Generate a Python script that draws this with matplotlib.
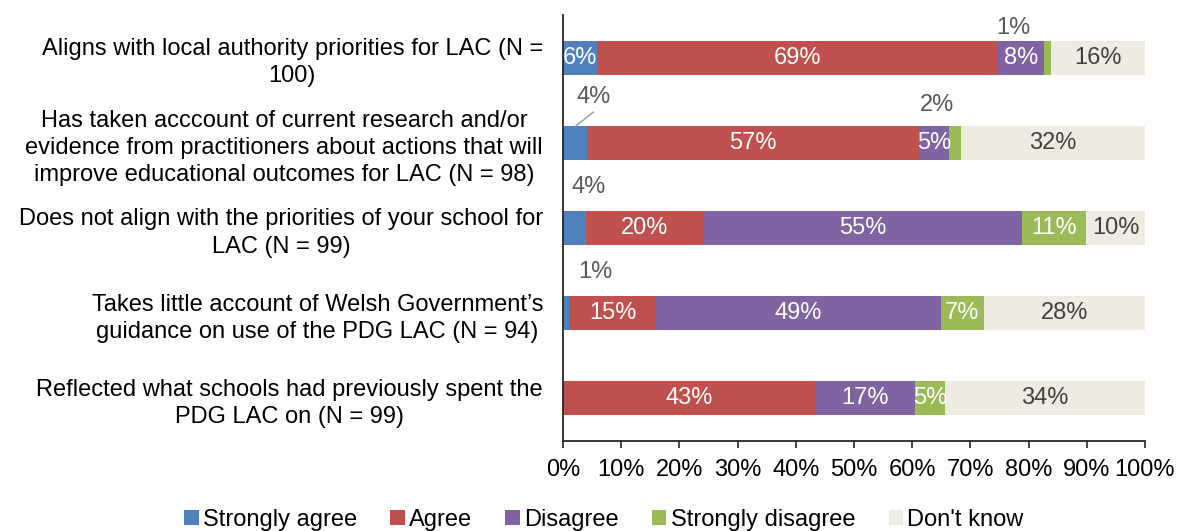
import matplotlib
matplotlib.use("Agg")
import matplotlib.pyplot as plt
from matplotlib.patches import Patch
import numpy as np

plt.rcParams['font.family'] = ['Liberation Sans', 'DejaVu Sans']

categories = [
    "Aligns with local authority priorities for LAC (N =\n100)",
    "Has taken acccount of current research and/or\nevidence from practitioners about actions that will\nimprove educational outcomes for LAC (N = 98)",
    "Does not align with the priorities of your school for\nLAC (N = 99)",
    "Takes little account of Welsh Government\u2019s\nguidance on use of the PDG LAC (N = 94)",
    "Reflected what schools had previously spent the\nPDG LAC on (N = 99)",
]
series_names = ["Strongly agree", "Agree", "Disagree", "Strongly disagree", "Don't know"]
strongly_agree = [5.9, 4.1, 4.0, 1.1, 0.0]
agree = [68.9, 57.2, 20.2, 14.9, 43.4]
disagree = [7.9, 5.0, 54.6, 48.9, 17.1]
strongly_disagree = [1.1, 2.0, 11.1, 7.4, 5.1]
dont_know = [16.2, 31.7, 10.1, 27.7, 34.4]
xticks = [0, 10, 20, 30, 40, 50, 60, 70, 80, 90, 100]

series = [strongly_agree, agree, disagree, strongly_disagree, dont_know]
colors = ["#4F81BD", "#C0504D", "#8064A2", "#9BBB59", "#EEECE1"]
label_colors = ["white", "white", "white", "white", "#404040"]

# labels drawn outside the bar: (row, series) -> (x in %, y offset in category units)
outside = {
    (0, 3): (77.3, -0.35),
    (1, 0): (5.2, -0.54),
    (1, 3): (64.3, -0.45),
    (2, 0): (4.4, -0.48),
    (3, 0): (5.6, -0.48),
}

fig = plt.figure(figsize=(11.77, 5.31), dpi=100)
ax = fig.add_axes([563/1177, 1 - 440.6/531, 582/1177, 425.3/531])

FS = 17
y = np.arange(len(categories))
left = np.zeros(len(categories))
for i, (vals, name, col) in enumerate(zip(series, series_names, colors)):
    vals = np.array(vals)
    ax.barh(y, vals, left=left, height=0.4, color=col, label=name, edgecolor='none')
    for r in range(len(categories)):
        v = vals[r]
        if v <= 0:
            continue
        txt = f"{v:.0f}%"
        if (r, i) in outside:
            xo, yo = outside[(r, i)]
            ax.text(xo, r + yo, txt, ha='center', va='center', fontsize=FS, color='#595959')
        else:
            ax.text(left[r] + v / 2, r, txt, ha='center', va='center', fontsize=FS,
                    color=label_colors[i])
    left = left + vals

# leader line for the 4% label in row 2
ax.plot([2.2, 5.2], [1 - 0.2, 1 - 0.36], color='#A6A6A6', lw=1.2)

ax.set_xlim(0, 100)
ax.set_ylim(len(categories) - 0.5, -0.5)
ax.set_xticks(xticks)
ax.set_xticklabels([f"{t}%" for t in xticks], fontsize=FS)
ax.set_yticks(y)
ax.set_yticklabels(categories, fontsize=FS, multialignment='center', linespacing=1.3)
ax.tick_params(axis='y', length=0, pad=14.4)
ax.tick_params(axis='x', length=5, width=1.2, color='#262626', pad=8.5)
for s in ['top', 'right']:
    ax.spines[s].set_visible(False)
ax.spines['left'].set_color('#262626')
ax.spines['bottom'].set_color('#262626')
ax.spines['left'].set_linewidth(1.3)
ax.spines['bottom'].set_linewidth(1.3)

handles = [Patch(facecolor=c, edgecolor='none') for c in colors]
fig.legend(handles, series_names, loc='center', bbox_to_anchor=(604/1177, 1 - 520/531),
           ncol=5, frameon=False, fontsize=FS, handlelength=0.6, handleheight=0.6,
           handletextpad=0.2, columnspacing=1.4, borderpad=0)

fig.savefig("out.png", dpi=100)
